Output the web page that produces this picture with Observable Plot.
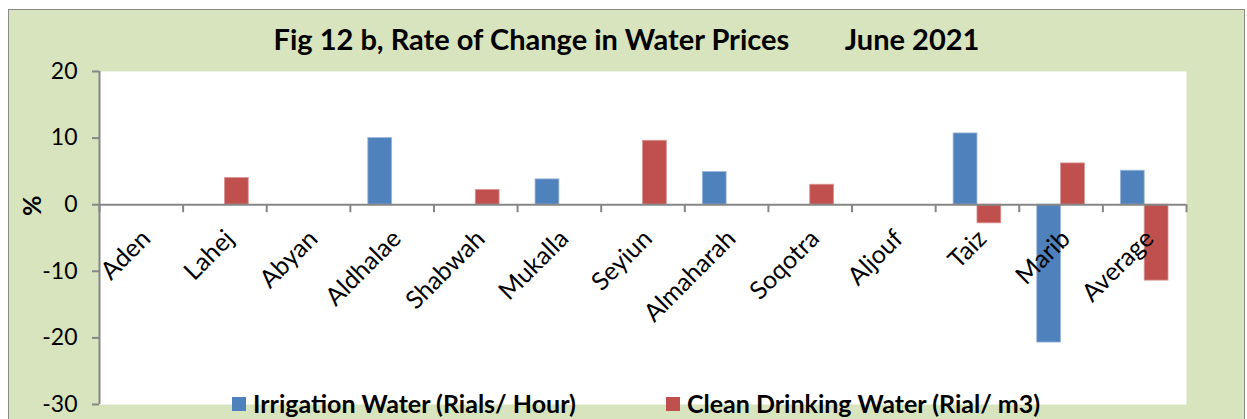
<!DOCTYPE html>
<html>
<head>
<meta charset="utf-8">
<script src="https://cdn.jsdelivr.net/npm/d3@7"></script>
<script src="https://cdn.jsdelivr.net/npm/@observablehq/plot@0.6"></script>
<style>
  html, body { margin: 0; padding: 0; background: #ffffff; width: 1247px; height: 419px; overflow: hidden; font-family: Lato, "Open Sans", sans-serif; }
  #bg { position: absolute; left: 8px; top: 9px; width: 1237px; height: 430px; background: #d7e4bd; border: 1px solid #8a8a8a; box-sizing: border-box; }
  #chart { position: absolute; left: 0; top: 0; }
  #title { position: absolute; left: 8px; width: 1237px; top: 24px; text-align: center; font-weight: bold; font-size: 29px; line-height: 29px; white-space: pre; color: #000; }
  .leg { position: absolute; top: 391px; font-weight: bold; font-size: 25px; line-height: 25px; color: #000; white-space: pre; display: flex; align-items: center; }
  .sw { display: inline-block; width: 14px; height: 14px; margin-right: 7px; }
</style>
</head>
<body>
<div id="bg"></div>
<div id="chart"></div>
<div id="title"></div>
<div id="leg1" class="leg" style="left:232px"><span class="sw" style="background:#4f81bd"></span><span id="l1"></span></div>
<div id="leg2" class="leg" style="left:666px"><span class="sw" style="background:#c0504d"></span><span id="l2"></span></div>
<script>
const categories = ["Aden", "Lahej", "Abyan", "Aldhalae", "Shabwah", "Mukalla", "Seyiun", "Almaharah", "Soqotra", "Aljouf", "Taiz", "Marib", "Average"];
const irrigation = [0, 0, 0, 10.0, 0, 3.8, 0, 4.9, 0, 0, 10.7, -20.7, 5.1];
const drinking   = [0, 4.0, 0, 0, 2.2, 0, 9.6, 0, 3.0, 0, -2.8, 6.2, -11.4];
const seriesNames = ["Irrigation Water (Rials/ Hour)", "Clean Drinking Water (Rial/ m3)"];
const yTicks = [-30, -20, -10, 0, 10, 20];
const titleText = "Fig 12 b, Rate of Change in Water Prices        June 2021";
const yLabel = "%";

const blue = "#4f81bd", red = "#c0504d", axisGray = "#868686";
const half = 0.285; // bar width in category units

document.getElementById("title").textContent = titleText;
document.getElementById("l1").textContent = seriesNames[0];
document.getElementById("l2").textContent = seriesNames[1];

const chart = Plot.plot({
  width: 1247,
  height: 419,
  marginLeft: 99,
  marginRight: 61,
  marginTop: 71,
  marginBottom: 15,
  style: { background: "transparent", fontFamily: "Lato, 'Open Sans', sans-serif" },
  x: { domain: [0, categories.length], axis: null },
  y: { domain: [yTicks[0], yTicks[yTicks.length - 1]], axis: null },
  marks: [
    Plot.frame({ fill: "white", stroke: null }),
    Plot.rect(irrigation, { x1: (d, i) => i + 0.5 - half, x2: (d, i) => i + 0.5, y1: 0, y2: d => d, fill: blue, stroke: "#9db6d9", strokeWidth: 0.8 }),
    Plot.rect(drinking, { x1: (d, i) => i + 0.5, x2: (d, i) => i + 0.5 + half, y1: 0, y2: d => d, fill: red, stroke: "#d99694", strokeWidth: 0.8 }),
    Plot.ruleY([0], { stroke: axisGray, strokeWidth: 2 }),
    Plot.ruleX(d3.range(categories.length + 1), { y1: 0, y2: 0, insetBottom: -8, stroke: axisGray, strokeWidth: 2 }),
    Plot.ruleX([0], { stroke: axisGray, strokeWidth: 2 }),
    Plot.axisY({ ticks: yTicks, tickSize: 7, tickPadding: 15, fontSize: 23, stroke: axisGray, strokeWidth: 2, fill: "black", label: null, tickFormat: d => String(d) }),
    Plot.text(categories, { x: (d, i) => i + 0.5, y: 0, text: d => d, rotate: -45, textAnchor: "end", lineAnchor: "top", dx: -2, dy: 23, fontSize: 25, fill: "black" }),
    Plot.text([yLabel], { frameAnchor: "left", text: d => d, rotate: -90, dx: -67, dy: -22, fontSize: 25, fontWeight: "bold", fill: "black" })
  ]
});
document.getElementById("chart").appendChild(chart);
</script>
</body>
</html>
